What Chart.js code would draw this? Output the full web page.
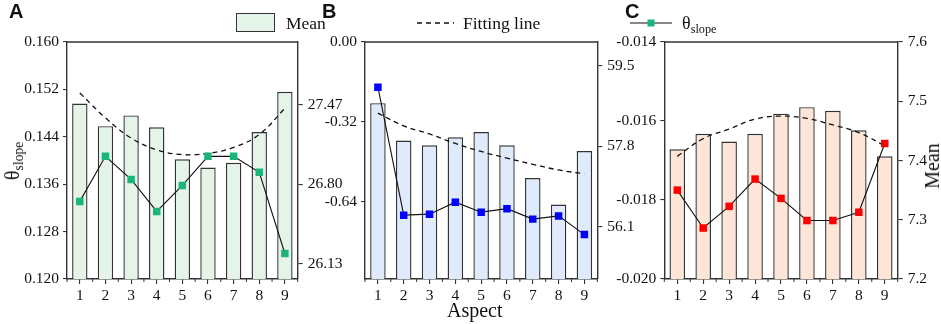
<!DOCTYPE html>
<html>
<head>
<meta charset="utf-8">
<script src="https://cdn.jsdelivr.net/npm/chart.js@4"></script>
<style>
  body { margin: 0; background: #fff; }
  #wrap { position: relative; width: 941px; height: 324px; overflow: hidden; font-family: 'Liberation Serif', 'Times New Roman', serif; color: #111; }
  canvas { position: absolute; top: 0; }
  .t { position: absolute; white-space: nowrap; line-height: 1; }
  .panel { font-family: 'Liberation Sans', Arial, sans-serif; font-weight: bold; font-size: 20px; }
  .rot { position: absolute; width: 0; height: 0; }
  .rot > div { position: absolute; left: 0; top: 0; white-space: nowrap; line-height: 1; transform: translate(-50%, -50%) rotate(-90deg); }
  sub { font-size: 0.68em; vertical-align: -0.3em; line-height: 0; }
  svg { position: absolute; overflow: visible; }
</style>
</head>
<body>
<div id="wrap">
  <canvas id="chartA" width="345" height="324" style="left:0px"></canvas>
  <canvas id="chartB" width="350" height="324" style="left:300px"></canvas>
  <canvas id="chartC" width="331" height="324" style="left:610px"></canvas>

  <div class="t panel" style="left:9px; top:1px">A</div>
  <div class="t panel" style="left:322px; top:1px">B</div>
  <div class="t panel" style="left:625px; top:1px">C</div>

  <!-- legend -->
  <div style="position:absolute; left:236px; top:13px; width:37px; height:17px; background:#e4f4e8; border:1.2px solid #333"></div>
  <div class="t" style="left:286px; top:15px; font-size:17.5px">Mean</div>
  <svg style="left:415px; top:18px" width="40" height="10">
    <line x1="2" y1="5" x2="39" y2="5" stroke="#111" stroke-width="1.3" stroke-dasharray="5,4"></line>
  </svg>
  <div class="t" style="left:463px; top:15px; font-size:17.5px">Fitting line</div>
  <svg style="left:628px; top:18px" width="46" height="10">
    <line x1="2" y1="5" x2="44" y2="5" stroke="#111" stroke-width="1.1"></line>
    <rect x="19.5" y="1.5" width="7" height="7" fill="#1db47a"></rect>
  </svg>
  <div class="t" style="left:682px; top:14px; font-size:18px">θ<sub>slope</sub></div>

  <!-- axis titles -->
  <div class="rot" style="left:12px; top:161px"><div style="font-size:20px">θ<sub>slope</sub></div></div>
  <div class="rot" style="left:932px; top:166px"><div style="font-size:20px">Mean</div></div>
  <div class="t" style="left:447px; top:300px; font-size:20px">Aspect</div>
</div>

<script>
const aspects = ["1", "2", "3", "4", "5", "6", "7", "8", "9"];

// panel A
const meanA = [27.48, 27.29, 27.38, 27.28, 27.01, 26.94, 26.98, 27.24, 27.58];
const slopeA = [0.1331, 0.1407, 0.1368, 0.1314, 0.1358, 0.1407, 0.1407, 0.1380, 0.1243];
const fitA = [27.57, 27.36, 27.19, 27.09, 27.05, 27.06, 27.11, 27.22, 27.44];
const slopeTicksA = [0.120, 0.128, 0.136, 0.144, 0.152, 0.160];
const meanTicksA = [26.13, 26.80, 27.47];

// panel B
const meanB = [58.71, 57.92, 57.82, 57.99, 58.10, 57.82, 57.13, 56.57, 57.70];
const slopeB = [-0.181, -0.694, -0.690, -0.642, -0.682, -0.668, -0.710, -0.697, -0.772];
const fitB = [58.50, 58.23, 58.06, 57.86, 57.69, 57.55, 57.42, 57.30, 57.22];
const slopeTicksB = [-0.64, -0.32, 0.00];
const meanTicksB = [56.1, 57.8, 59.5];

// panel C
const meanC = [7.419, 7.445, 7.432, 7.445, 7.479, 7.490, 7.484, 7.451, 7.407];
const slopeC = [-0.01775, -0.01871, -0.01816, -0.01747, -0.01796, -0.01852, -0.01852, -0.01831, -0.01657];
const fitC = [7.407, 7.437, 7.453, 7.470, 7.475, 7.471, 7.460, 7.447, 7.425];
const slopeTicksC = [-0.020, -0.018, -0.016, -0.014];
const meanTicksC = [7.2, 7.3, 7.4, 7.5, 7.6];

Chart.defaults.font.family = "'Liberation Serif', 'Times New Roman', serif";
Chart.defaults.font.size = 15.5;
Chart.defaults.color = "#111";

const axisColor = "#333";

// top edge of the frame and the small ticks between categories
const frame = {
    id: "frame",
    afterDraw(chart) {
        const { ctx, chartArea: a } = chart;
        const x = chart.scales.x;
        const step = x.getPixelForValue(1) - x.getPixelForValue(0);
        ctx.save();
        ctx.strokeStyle = axisColor;
        ctx.lineWidth = 1.4;
        ctx.beginPath();
        ctx.moveTo(a.left, a.top);
        ctx.lineTo(a.right, a.top);
        ctx.stroke();
        ctx.lineWidth = 1;
        ctx.beginPath();
        for (let i = 0; i <= aspects.length; i++) {
            const px = x.getPixelForValue(0) + (i - 0.5) * step;
            ctx.moveTo(px, a.bottom);
            ctx.lineTo(px, a.bottom + 3);
        }
        ctx.stroke();
        ctx.restore();
    },
};

function panel(canvasId, o) {
    const grid = { display: true, drawOnChartArea: false, drawTicks: true, color: axisColor, lineWidth: 1.1, tickLength: 5 };
    const border = { display: true, color: axisColor, width: 1.4 };

    const config = {
        data: {
            labels: aspects,
            datasets: [
                {
                    type: "line",
                    label: "θslope",
                    data: o.slope,
                    yAxisID: "y",
                    borderColor: "#111",
                    borderWidth: 1.1,
                    pointStyle: "rect",
                    pointRadius: 5.3,
                    pointBackgroundColor: o.marker,
                    pointBorderWidth: 0,
                    order: 1,
                },
                {
                    type: "line",
                    label: "Fitting line",
                    data: o.fit,
                    yAxisID: "y1",
                    borderColor: "#111",
                    borderWidth: 1.3,
                    borderDash: [5, 4],
                    pointRadius: 0,
                    tension: 0.4,
                    order: 2,
                },
                {
                    type: "bar",
                    label: "Mean",
                    data: o.mean,
                    yAxisID: "y1",
                    backgroundColor: o.fill,
                    borderColor: "#333",
                    borderWidth: 1.4,
                    barPercentage: 0.6,
                    categoryPercentage: 1,
                    order: 3,
                },
            ],
        },
        options: {
            responsive: false,
            animation: false,
            layout: { padding: { top: 42, left: 0, right: 0, bottom: 0 } },
            plugins: {
                legend: { display: false },
                tooltip: { enabled: false },
            },
            scales: {
                x: {
                    grid: { ...grid, offset: false },
                    border: border,
                    ticks: { padding: 3, maxRotation: 0 },
                    afterFit: (s) => { s.height = 45; },
                },
                y: {
                    position: "left",
                    min: o.yMin,
                    max: o.yMax,
                    grid: { ...grid, tickLength: 4 },
                    border: border,
                    ticks: {
                        padding: 4,
                        callback: (v) => Number(v).toFixed(o.yDec),
                    },
                    afterBuildTicks: (s) => { s.ticks = o.yTicks.map((v) => ({ value: v })); },
                    afterFit: (s) => { s.width = o.leftW; },
                },
                y1: {
                    position: "right",
                    min: o.y1Min,
                    max: o.y1Max,
                    grid: grid,
                    border: border,
                    ticks: {
                        padding: 5,
                        callback: (v) => Number(v).toFixed(o.y1Dec),
                    },
                    afterBuildTicks: (s) => { s.ticks = o.y1Ticks.map((v) => ({ value: v })); },
                    afterFit: (s) => { s.width = o.rightW; },
                },
            },
        },
        plugins: [frame],
    };

    new Chart(document.getElementById(canvasId), config);
}

panel("chartA", {
    mean: meanA, slope: slopeA, fit: fitA,
    yTicks: slopeTicksA, y1Ticks: meanTicksA,
    yMin: 0.12, yMax: 0.16, yDec: 3,
    y1Min: 26.0, y1Max: 28.0, y1Dec: 2,
    fill: "#e4f4e8", marker: "#1db47a",
    leftW: 67, rightW: 47.3,
});

panel("chartB", {
    mean: meanB, slope: slopeB, fit: fitB,
    yTicks: slopeTicksB, y1Ticks: meanTicksB,
    yMin: -0.95, yMax: 0, yDec: 2,
    y1Min: 55, y1Max: 60, y1Dec: 1,
    fill: "#dfeafa", marker: "#0000ff",
    leftW: 65, rightW: 52.7,
});

panel("chartC", {
    mean: meanC, slope: slopeC, fit: fitC,
    yTicks: slopeTicksC, y1Ticks: meanTicksC,
    yMin: -0.020, yMax: -0.014, yDec: 3,
    y1Min: 7.2, y1Max: 7.6, y1Dec: 1,
    fill: "#fde6d8", marker: "#ff0000",
    leftW: 54.3, rightW: 43.3,
});
</script>
</body>
</html>
